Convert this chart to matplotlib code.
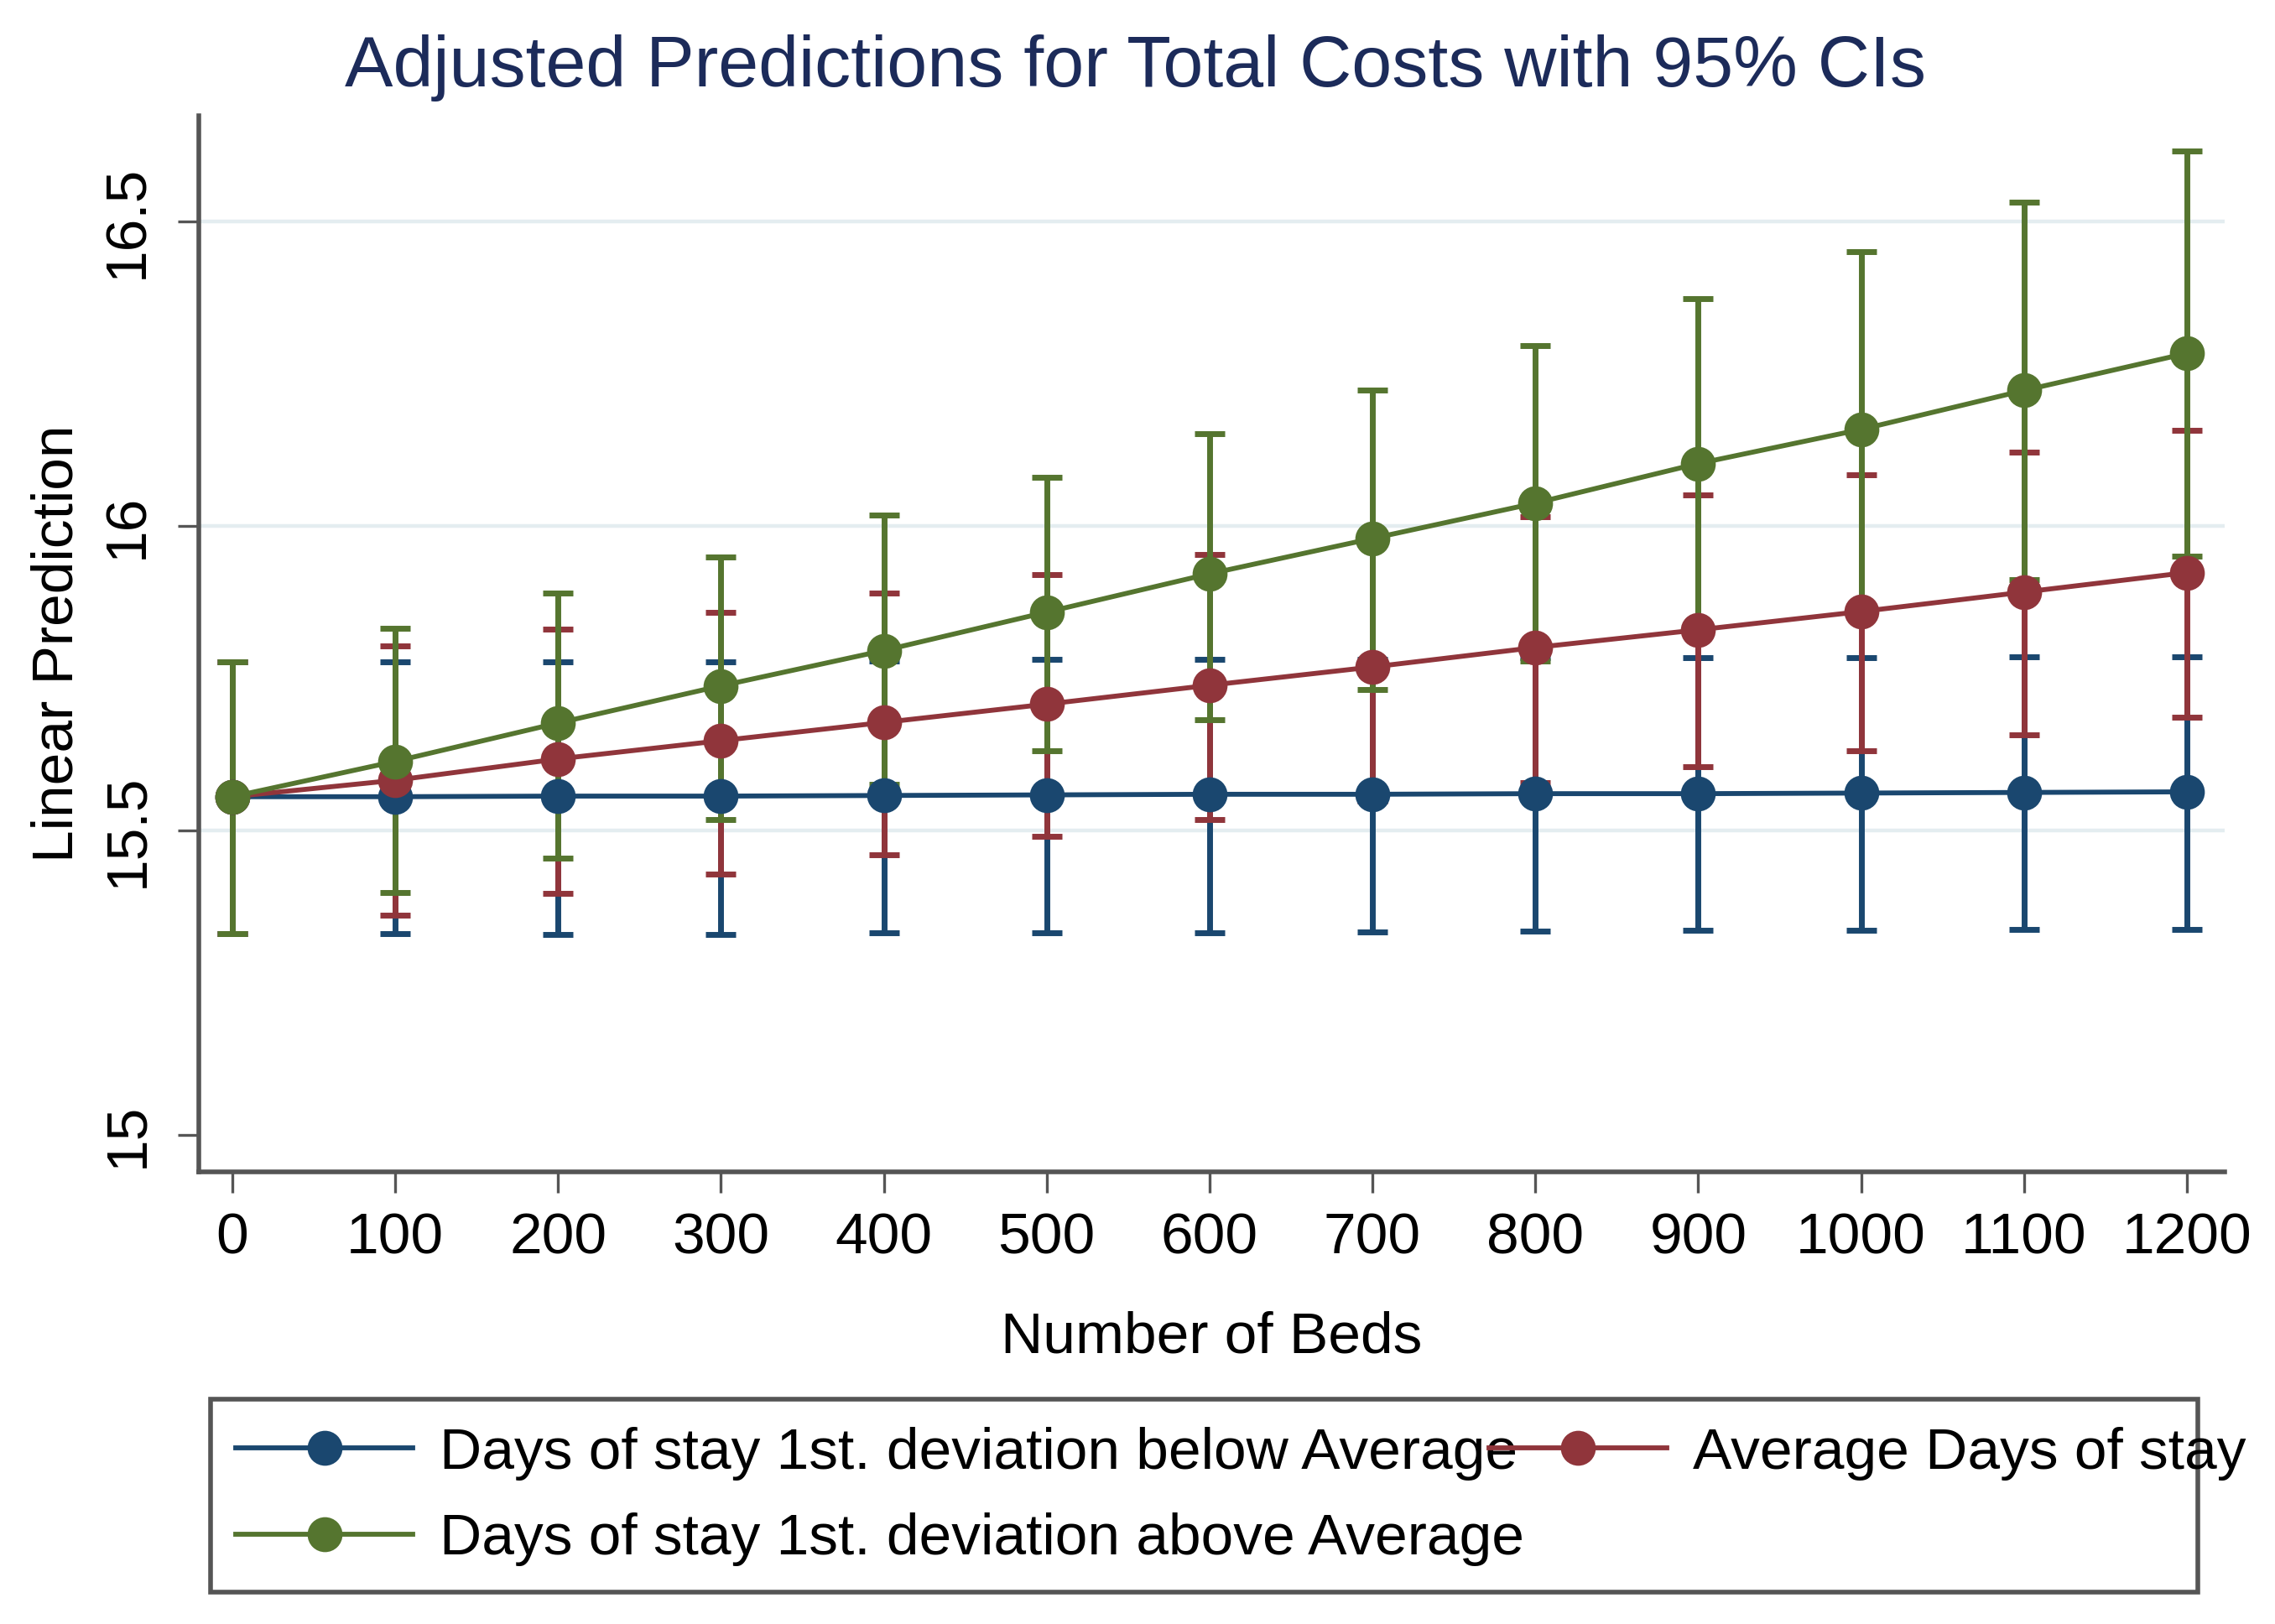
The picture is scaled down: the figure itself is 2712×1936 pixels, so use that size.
import matplotlib
matplotlib.use("Agg")
import matplotlib.pyplot as plt
from matplotlib.lines import Line2D
from matplotlib.patches import Rectangle

beds = [0, 100, 200, 300, 400, 500, 600, 700, 800, 900, 1000, 1100, 1200]

below = [15.556, 15.556, 15.557, 15.557, 15.558, 15.559, 15.560, 15.560, 15.561, 15.561, 15.562, 15.563, 15.564]
below_lo = [15.331, 15.331, 15.330, 15.330, 15.333, 15.333, 15.333, 15.334, 15.335, 15.336, 15.337, 15.338, 15.338]
below_hi = [15.777, 15.777, 15.777, 15.777, 15.779, 15.781, 15.782, 15.782, 15.784, 15.784, 15.785, 15.786, 15.786]

avg = [15.556, 15.583, 15.618, 15.648, 15.678, 15.708, 15.739, 15.769, 15.801, 15.830, 15.860, 15.892, 15.924]
avg_lo = [15.331, 15.362, 15.397, 15.429, 15.460, 15.491, 15.519, 15.549, 15.579, 15.605, 15.632, 15.658, 15.687]
avg_hi = [15.777, 15.804, 15.831, 15.858, 15.891, 15.921, 15.954, 15.987, 16.016, 16.052, 16.085, 16.122, 16.157]

above = [15.556, 15.614, 15.677, 15.738, 15.796, 15.859, 15.922, 15.980, 16.038, 16.103, 16.159, 16.223, 16.284]
above_lo = [15.331, 15.399, 15.455, 15.519, 15.576, 15.632, 15.682, 15.732, 15.779, 15.832, 15.867, 15.912, 15.951]
above_hi = [15.777, 15.832, 15.891, 15.950, 16.018, 16.080, 16.152, 16.224, 16.297, 16.374, 16.451, 16.532, 16.616]

labels = ["Days of stay 1st. deviation below Average",
          "Average Days of stay",
          "Days of stay 1st. deviation above Average"]
colors = ["#1a476f", "#90353b", "#55752f"]
yticks = [15, 15.5, 16, 16.5]
ytick_labels = ["15", "15.5", "16", "16.5"]

plt.rcParams['font.family'] = ['Liberation Sans', 'DejaVu Sans']

fig = plt.figure(figsize=(13.56, 9.68), dpi=200)
ax = fig.add_axes([0.0874, 0.2784, 0.8903, 0.6503])

for yv in yticks[1:]:
    ax.axhline(yv, color="#e4edf0", lw=1.6, zorder=0)

series = [(below, below_lo, below_hi), (avg, avg_lo, avg_hi), (above, above_lo, above_hi)]
for (m, lo, hi), c in zip(series, colors):
    yerr = [[mm - l for mm, l in zip(m, lo)], [h - mm for mm, h in zip(m, hi)]]
    ax.errorbar(beds, m, yerr=yerr, fmt='none', ecolor=c, elinewidth=2.5,
                capsize=6.5, capthick=2.5, zorder=2)
for (m, lo, hi), c in zip(series, colors):
    ax.plot(beds, m, color=c, lw=2.1, marker='o', markersize=14, zorder=3)

ax.set_xlim(-20.5, 1223)
ax.set_ylim(14.94, 16.674)
ax.set_xticks(beds)
ax.set_xticklabels([str(b) for b in beds])
ax.set_yticks(yticks)
ax.set_yticklabels(ytick_labels, rotation=90, va='center')

for s in ['top', 'right']:
    ax.spines[s].set_visible(False)
for s in ['left', 'bottom']:
    ax.spines[s].set_color('#555555')
    ax.spines[s].set_linewidth(2.0)

ax.tick_params(axis='both', length=9, width=1.2, color='#555555', labelsize=25, labelcolor='black')
ax.tick_params(axis='y', pad=10)
ax.tick_params(axis='x', pad=8)

ax.set_xlabel("Number of Beds", fontsize=25)
ax.set_ylabel("Linear Prediction", fontsize=25)
ax.xaxis.set_label_coords(0.5, -0.1565)
ax.yaxis.set_label_coords(-0.0696, 0.5)
ax.xaxis.label.set_va('center')
ax.yaxis.label.set_va('center')

fig.text(0.499, 0.958, "Adjusted Predictions for Total Costs with 95% CIs",
         ha='center', va='center', fontsize=31, color='#1c2b5a')

handles = [Line2D([0], [0], color=c, lw=2.1, marker='o', markersize=14) for c in colors]
order = [0, 2, 1]
leg = fig.legend([handles[i] for i in order], [labels[i] for i in order],
                 ncol=2, loc='upper left', bbox_to_anchor=(0.1035, 0.1215),
                 frameon=False, fontsize=25, handlelength=3.05, handletextpad=0.45,
                 columnspacing=-0.6, labelspacing=0.55, borderpad=0, borderaxespad=0)

frame = Rectangle((0.0925, 0.0196), 0.8735, 0.1188, transform=fig.transFigure,
                  fill=False, edgecolor='#555555', lw=2.0)
fig.patches.append(frame)

fig.savefig("out.png", dpi=200, facecolor='white')
